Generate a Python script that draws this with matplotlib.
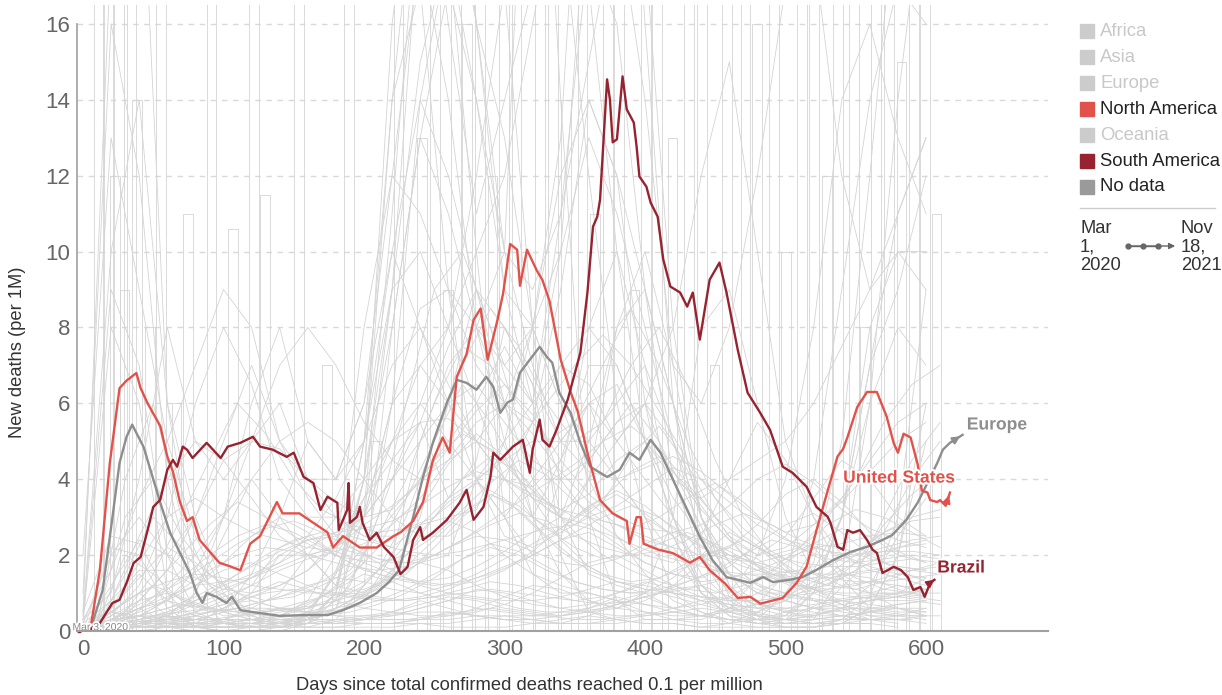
import matplotlib
matplotlib.use("Agg")
import matplotlib.pyplot as plt
import matplotlib.patheffects as pe
from matplotlib.patches import Rectangle
from matplotlib.lines import Line2D

plt.rcParams['font.family'] = ['Liberation Sans', 'DejaVu Sans']

# highlighted series: (days since 0.1 deaths per million, new deaths per 1M)
us_days = [0, 5, 12, 19, 26, 31, 38, 41, 46, 55, 60, 64, 69, 74, 78, 83, 97, 105, 112, 119,
           126, 138, 142, 154, 164, 174, 178, 185, 197, 209, 221, 226, 235, 242, 249, 256, 261,
           266, 273, 278, 283, 288, 295, 299, 304, 309, 311, 316, 323, 327, 332, 340, 347, 352,
           359, 368, 377, 387, 389, 394, 397, 399, 409, 420, 432, 439, 446, 457, 466, 475, 482,
           498, 508, 515, 522, 530, 537, 541, 544, 551, 558, 565, 572, 577, 580, 584, 589, 594,
           597, 601, 603, 608, 610, 614, 617]
us_vals = [0, 0, 1.6, 4.4, 6.4, 6.6, 6.8, 6.4, 6.0, 5.4, 4.6, 4.2, 3.4, 2.9, 3.0, 2.4, 1.8, 1.7,
           1.6, 2.3, 2.5, 3.4, 3.1, 3.1, 2.85, 2.6, 2.2, 2.5, 2.2, 2.2, 2.5, 2.6, 2.9, 3.4, 4.5,
           5.1, 4.7, 6.7, 7.3, 8.2, 8.5, 7.15, 8.2, 8.9, 10.2, 10.05, 9.1, 10.05, 9.5, 9.25, 8.7,
           7.15, 6.3, 5.8, 4.7, 3.45, 3.1, 2.9, 2.3, 3.0, 3.0, 2.3, 2.15, 2.05, 1.8, 1.95, 1.6,
           1.25, 0.87, 0.9, 0.72, 0.87, 1.27, 1.7, 2.65, 3.7, 4.6, 4.8, 5.1, 5.9, 6.3, 6.3, 5.65,
           4.95, 4.7, 5.2, 5.1, 4.4, 3.7, 3.65, 3.45, 3.4, 3.45, 3.3, 3.65]

brazil_days = [0, 5, 12, 21, 26, 31, 36, 41, 46, 50, 55, 60, 64, 67, 71, 74, 78, 88, 98, 103,
               112, 121, 126, 135, 145, 150, 157, 164, 169, 174, 181, 182, 188, 189, 190, 195,
               197, 199, 204, 209, 214, 221, 226, 231, 235, 240, 242, 249, 259, 268, 273, 278,
               285, 290, 292, 297, 306, 313, 318, 320, 325, 327, 332, 337, 345, 354, 359, 363,
               366, 368, 373, 375, 377, 380, 384, 387, 392, 394, 396, 401, 404, 409, 413, 418,
               425, 430, 434, 439, 446, 453, 458, 466, 473, 482, 489, 498, 505, 515, 522, 530,
               532, 537, 541, 544, 548, 553, 558, 562, 565, 569, 577, 582, 587, 591, 596, 599,
               603, 606]
brazil_vals = [0, 0.03, 0.21, 0.74, 0.82, 1.27, 1.79, 1.95, 2.66, 3.27, 3.46, 4.25, 4.51, 4.33,
               4.86, 4.78, 4.56, 4.96, 4.56, 4.86, 4.96, 5.12, 4.86, 4.78, 4.59, 4.70, 4.06,
               3.90, 3.19, 3.54, 3.38, 2.66, 3.19, 3.90, 2.85, 3.01, 3.27, 2.85, 2.40, 2.59,
               2.22, 1.95, 1.50, 1.69, 2.40, 2.74, 2.40, 2.59, 2.93, 3.38, 3.72, 2.93, 3.27,
               4.06, 4.70, 4.51, 4.86, 5.04, 4.17, 4.78, 5.57, 5.04, 4.86, 5.30, 6.10, 7.34,
               8.92, 10.66, 10.92, 11.37, 14.54, 14.01, 12.88, 12.96, 14.62, 13.75, 13.40,
               12.77, 11.98, 11.71, 11.29, 10.92, 9.79, 9.08, 8.92, 8.55, 8.92, 7.68, 9.26,
               9.71, 8.92, 7.41, 6.28, 5.75, 5.30, 4.33, 4.17, 3.80, 3.27, 3.01, 2.85, 2.22,
               2.14, 2.66, 2.59, 2.66, 2.40, 2.14, 2.06, 1.53, 1.69, 1.61, 1.42, 1.08, 1.16,
               0.90, 1.27, 1.35]

europe_days = [0, 5, 14, 21, 26, 31, 35, 38, 43, 48, 55, 62, 69, 76, 81, 85, 88, 95, 102, 106,
               112, 126, 140, 159, 174, 185, 197, 209, 218, 225, 235, 242, 249, 259, 266, 273,
               280, 287, 292, 297, 302, 306, 311, 318, 325, 330, 334, 339, 347, 354, 361, 373,
               382, 389, 396, 404, 411, 420, 430, 439, 448, 458, 475, 484, 491, 503, 512, 522,
               534, 546, 558, 569, 576, 586, 594, 601, 608, 612, 617, 626]
europe_vals = [0, 0, 1.08, 3.01, 4.43, 5.12, 5.44, 5.22, 4.86, 4.25, 3.38, 2.59, 2.06, 1.53,
               1.00, 0.74, 1.00, 0.90, 0.74, 0.90, 0.55, 0.47, 0.40, 0.42, 0.42, 0.55, 0.74,
               1.00, 1.30, 1.61, 3.01, 4.06, 4.96, 6.02, 6.62, 6.54, 6.36, 6.70, 6.44, 5.75,
               6.02, 6.10, 6.81, 7.15, 7.49, 7.23, 7.07, 6.28, 5.75, 4.96, 4.33, 4.06, 4.25,
               4.70, 4.51, 5.04, 4.70, 3.98, 3.19, 2.48, 1.87, 1.42, 1.27, 1.42, 1.29, 1.35,
               1.42, 1.61, 1.87, 2.08, 2.22, 2.40, 2.53, 2.93, 3.38, 3.90, 4.43, 4.78, 4.96, 5.17]

# background countries, sampled every 20 days
grid_days = [0, 20, 40, 60, 80, 100, 120, 140, 160, 180, 200, 220, 240, 260, 280, 300,
             320, 340, 360, 380, 400, 420, 440, 460, 480, 500, 520, 540, 560, 580, 600, 620]

country_vals = [
    [0.5, 18, 22, 6, 1.5, 0.5, 0.3, 0.5, 0.6, 1.2, 4, 14, 17, 9, 4, 2.5, 2.2, 2.6, 3, 2.8, 2.5, 2.2, 1.2, 0.6, 0.4, 0.3, 0.4, 0.6, 1.2, 2.5, 3.5],
    [0.4, 10, 14, 6, 3, 1.2, 0.4, 0.2, 0.3, 0.8, 3, 5, 7, 8, 12, 17, 8, 2, 0.5, 0.3, 0.2, 0.2, 0.1, 0.2, 0.5, 0.9, 1.3, 1.6, 2.0, 2.2, 2.3],
    [1, 16, 12, 4, 1, 0.2, 0.1, 0.2, 0.4, 1.6, 3.5, 5, 5.5, 3.5, 4.5, 8, 6.5, 3, 1.5, 1.2, 1, 0.6, 0.4, 0.3, 0.3, 1, 2.2, 1.4, 0.6, 0.6, 0.4],
    [2, 13, 9, 5, 2.5, 1, 0.3, 0.1, 0.1, 0.3, 1.2, 8, 13, 11, 8, 7, 8, 6, 5, 6, 7, 5, 2.5, 0.9, 0.4, 0.3, 0.6, 0.8, 0.9, 1.0, 1.1],
    [0, 0.2, 0.6, 0.2, 0.1, 0.1, 0.1, 0.1, 0.3, 1, 4, 16, 22, 16, 11, 14, 17, 19, 12, 6, 3, 1, 0.5, 0.2, 0.1, 0.1, 0.1, 0.2, 0.6, 2, 6],
    [0.1, 0.6, 1.5, 0.8, 0.4, 0.2, 0.1, 0.1, 0.2, 0.6, 3, 9, 15, 18, 14, 9, 8, 13, 25, 28, 16, 6, 2, 0.7, 0.3, 0.1, 0.1, 0.3, 0.9, 3, 9],
    [0.1, 0.3, 0.6, 0.8, 0.6, 0.9, 1.2, 2.2, 2.5, 2.0, 3.2, 11, 20, 24, 16, 10, 9, 11, 15, 19, 14, 7, 3, 1.5, 1, 1, 1.8, 5, 12, 20, 28],
    [0, 2.2, 2, 0.6, 0.1, 0, 0, 0.1, 0.3, 1, 5, 14, 21, 20, 16, 13, 8, 6, 4, 2.5, 1.5, 0.8, 0.5, 0.3, 0.2, 0.3, 1, 3, 7, 9, 12],
    [0.5, 2.5, 2.3, 1, 0.7, 0.4, 0.4, 0.6, 0.5, 0.5, 0.8, 2, 5, 7, 8, 10, 27, 14, 3, 0.8, 0.3, 0.3, 0.3, 0.6, 1.4, 1.5, 0.8, 0.6, 0.3, 0.4, 0.6],
    [0.2, 0.8, 1.6, 1.6, 1.2, 1.3, 1.4, 2.0, 2.4, 2.5, 3, 6, 8.5, 9, 8, 6, 4, 3, 5, 8, 9, 6, 3, 1.2, 0.4, 0.2, 0.3, 1.5, 6, 14, 20],
    [0.3, 1.6, 3.5, 5, 7, 9, 8, 5, 3.5, 2.5, 2, 1.8, 1.8, 2, 4, 5, 8, 12, 14, 12, 9, 6, 3, 1.8, 1.2, 1.0, 0.8, 0.6, 0.6, 0.7, 0.8],
    [0.1, 0.3, 0.4, 0.4, 0.3, 0.3, 0.3, 0.4, 0.8, 2, 8, 12, 11, 9, 7, 6, 5.5, 9, 14, 12, 6, 2.5, 1, 0.4, 0.2, 0.1, 0.1, 0.2, 0.6, 2, 5],
    [0.2, 2, 3, 2, 3, 5, 7, 5, 4, 4, 5, 9, 19, 22, 16, 9, 6, 10, 20, 26, 18, 8, 3, 1.2, 0.6, 0.4, 1, 3, 8, 10, 9],
    [0, 0.5, 1, 0.4, 0.2, 0.6, 1, 2, 2, 1.2, 1.8, 6, 14, 18, 10, 3, 2, 4, 8, 10, 7, 3, 1, 0.4, 0.3, 0.4, 1.2, 3, 7, 11, 13],
    [0, 0.1, 0.2, 0.2, 0.3, 0.5, 1.5, 3, 5, 4, 6, 12, 18, 14, 8, 5, 3, 2.5, 4, 8, 10, 7, 6, 8, 12, 17, 18, 12, 9, 11, 13],
    [0, 0.5, 0.4, 0.2, 0.1, 0, 0.1, 0.2, 0.4, 1.5, 4, 8, 13, 17, 14, 10, 7, 5, 6, 4, 3, 2, 1, 0.6, 0.7, 1.5, 4, 9, 14, 17, 16],
    [0, 0.1, 0.1, 0.1, 0.2, 0.3, 0.6, 1, 2, 3, 4, 5, 6, 8, 10, 12, 16, 20, 17, 10, 5, 3, 1.5, 0.8, 0.4, 0.3, 0.2, 0.2, 0.3, 0.3, 0.4],
    [0, 0.2, 0.4, 0.8, 1.6, 3, 5, 7, 8, 7, 5.5, 4.5, 4, 4.5, 5, 6, 8, 10, 13, 11, 8, 5, 3, 1.8, 1.2, 0.8, 0.6, 0.4, 0.3, 0.3, 0.2],
    [0.3, 9, 7, 2, 0.5, 0.2, 0.1, 0.2, 0.5, 1.5, 3, 6, 7, 6, 5, 4.5, 5, 5, 5, 4, 3, 2.5, 1.2, 0.5, 0.3, 0.3, 0.4, 0.6, 0.8, 0.9, 1.1],
    [0.2, 8, 6, 1, 0.2, 0.1, 0.1, 0.1, 0.2, 1, 5, 10, 8, 6, 4, 3, 1.5, 1, 1, 0.8, 0.5, 0.3, 0.2, 0.2, 0.3, 0.5, 0.6, 0.6, 0.8, 1, 1.4],
    [0, 0.1, 0.2, 0.3, 0.4, 0.6, 0.9, 1.2, 1.6, 2.4, 3.5, 4.5, 5.5, 5.6, 5, 4, 3.8, 4.5, 6, 6.5, 5, 4, 3.5, 4, 4.5, 5, 6, 7.5, 9, 10, 10],
    [0, 0.5, 0.3, 0.1, 1, 3, 6, 8, 5, 4, 6, 10, 14, 12, 9, 7, 6, 11, 18, 16, 9, 4, 2, 1, 2, 4, 8, 14, 16, 13, 11],
    [0, 0.4, 1.2, 3, 6, 8, 6.5, 4, 3, 3, 2.5, 2.5, 2.8, 3, 3.2, 5, 6, 7, 6.5, 5, 4, 3, 2, 1.5, 1, 0.8, 0.6, 0.7, 0.8, 0.9, 1.1],
    [0, 0.3, 0.8, 1.6, 3, 4.5, 5, 4.8, 4, 3.4, 3, 3.2, 4, 5, 6, 7.5, 6, 4, 3, 2.5, 2, 1.8, 2.5, 4, 5.5, 4.5, 3, 2, 1.6, 1.4, 1.2],
    [0.3, 1, 4, 8, 5, 4, 5, 6, 4, 3, 2.5, 2.2, 2.8, 3.5, 4, 4.5, 3.5, 3, 4, 5, 6, 4, 2.5, 1.5, 1, 0.8, 0.6, 0.5, 0.4, 0.4, 0.3],
    [0, 0.3, 0.4, 0.2, 0.1, 0.1, 0.1, 0.1, 0.2, 1, 4, 9, 10, 8, 6, 4, 3, 4.5, 7, 7, 5, 3, 1.2, 0.6, 0.5, 0.8, 1.6, 3, 6, 8, 7],
    [0, 0.1, 0.1, 0.1, 0, 0, 0, 0, 0.2, 0.6, 2, 4, 6, 5, 4, 3, 4, 5, 6, 5, 6, 8, 12, 15, 10, 5, 3, 1.5, 1, 0.6, 0.4],
    [0, 0.1, 0.2, 0.4, 1, 2.5, 4, 3, 2, 1.2, 1, 1.5, 3, 6, 9, 6, 3, 1.5, 0.8, 0.6, 1, 3, 8, 9, 6, 3, 1.5, 1.2, 1, 1.2, 1.0],
    [0, 0.8, 2.5, 4, 5, 4.5, 3.5, 2.5, 2, 2.2, 3, 4, 5, 6, 6.5, 5.5, 4.5, 4, 4.5, 5.5, 6, 5, 3.5, 2.5, 2, 2.5, 3.5, 4.5, 4, 3, 2.5],
    [0, 0.3, 0.6, 1.2, 2, 3, 4, 5, 5.5, 5, 4, 3, 2.5, 2.5, 3, 4, 5.5, 7, 8, 7, 5, 3.5, 2.5, 2, 1.8, 1.6, 1.5, 1.5, 1.6, 1.7, 1.6],
    [0, 0.2, 0.3, 0.5, 0.8, 1.2, 1.5, 1.8, 2.5, 3.5, 5, 7, 8, 6.5, 5, 4, 3.5, 3.2, 3.6, 4.5, 5, 4.2, 3.2, 2.4, 2, 2.2, 2.8, 3.5, 4.5, 5.5, 6],
    [0, 0.6, 1.8, 3, 3.5, 3, 2.6, 2.4, 2.2, 2.1, 2.3, 2.8, 3.5, 4.5, 5.5, 6, 5.2, 4.2, 3.4, 2.8, 2.4, 2.2, 2, 2.2, 2.8, 3.6, 4, 3.4, 2.6, 2.1, 1.8],
    [0, 0.1, 0.2, 0.4, 0.7, 1, 1.4, 1.8, 2.2, 2.6, 3, 4, 5.5, 7.5, 9, 8, 6.5, 5, 4.2, 4, 4.3, 4.6, 4.2, 3.6, 3, 2.6, 2.8, 3.4, 4.2, 5, 5.5],
    [0, 1.2, 2.4, 2, 1.4, 1.1, 1, 1.2, 1.6, 2.2, 2.8, 3.3, 3.9, 4.8, 5.8, 6.5, 5.7, 4.5, 3.6, 3, 2.7, 2.6, 2.8, 3.3, 4, 4.4, 3.9, 3.2, 2.7, 2.4, 2.2],
    [0, 0.1, 0.2, 0.3, 0.5, 0.7, 0.8, 0.6, 0.5, 0.4, 0.4, 0.5, 0.7, 0.9, 0.8, 0.6, 0.5, 0.4, 0.5, 0.7, 0.9, 1.1, 1.2, 0.9, 0.7, 0.5, 0.4, 0.4, 0.5, 0.6, 0.5],
    [0, 0.2, 0.3, 0.4, 0.3, 0.3, 0.3, 0.2, 0.2, 0.2, 0.3, 0.4, 0.6, 0.8, 1.1, 1.0, 0.8, 0.6, 0.5, 0.4, 0.4, 0.5, 0.6, 0.5, 0.4, 0.3, 0.3, 0.4, 0.5, 0.4, 0.4],
    [0, 0.1, 0.1, 0.2, 0.4, 0.6, 1.0, 1.3, 1.1, 0.8, 0.6, 0.5, 0.4, 0.4, 0.5, 0.7, 1.0, 1.4, 1.8, 2.0, 1.6, 1.2, 0.9, 0.7, 0.6, 0.8, 1.2, 1.5, 1.4, 1.1, 0.9],
    [0, 0, 0.1, 0.1, 0.1, 0.2, 0.2, 0.3, 0.3, 0.2, 0.2, 0.2, 0.3, 0.3, 0.4, 0.3, 0.3, 0.2, 0.2, 0.3, 0.4, 0.5, 0.4, 0.3, 0.2, 0.2, 0.2, 0.3, 0.3, 0.2],
    [0, 0.3, 0.6, 0.9, 1.2, 1.6, 1.8, 1.5, 1.2, 1.0, 0.9, 0.8, 0.9, 1.1, 1.4, 1.7, 2.0, 2.4, 2.6, 2.2, 1.8, 1.5, 1.3, 1.4, 1.6, 1.9, 2.2, 2.0, 1.7, 1.5, 1.4],
    [0, 0.1, 0.2, 0.3, 0.4, 0.3, 0.2, 0.2, 0.3, 0.5, 0.9, 1.4, 1.8, 1.6, 1.2, 0.9, 0.7, 0.6, 0.7, 1.0, 1.3, 1.1, 0.8, 0.5, 0.3, 0.2, 0.2, 0.3, 0.5, 0.7, 0.8],
    [0, 0.2, 0.1, 0.1, 0.1, 0.1, 0.2, 0.4, 0.7, 1.1, 1.5, 1.3, 1.0, 0.8, 0.6, 0.5, 0.4, 0.4, 0.5, 0.6, 0.8, 1.2, 1.8, 2.2, 1.9, 1.4, 1.0, 0.7, 0.5, 0.4],
    [0, 0.1, 0.3, 0.5, 0.8, 1.1, 1.4, 1.7, 2.0, 2.2, 2.0, 1.6, 1.2, 1.0, 0.9, 0.8, 0.8, 0.9, 1.1, 1.3, 1.2, 1.0, 0.8, 0.7, 0.6, 0.6, 0.7, 0.8, 0.7, 0.6, 0.6],
    [0, 0, 0, 0.1, 0.1, 0.1, 0.1, 0.1, 0.1, 0.1, 0.2, 0.2, 0.2, 0.1, 0.1, 0.1, 0.2, 0.3, 0.4, 0.3, 0.2, 0.2, 0.1, 0.1, 0.1, 0.1, 0.1, 0.2, 0.2, 0.1],
    [0, 0.4, 0.8, 1.0, 0.7, 0.5, 0.3, 0.3, 0.4, 0.6, 1.0, 1.6, 2.4, 2.9, 2.6, 2.0, 1.5, 1.2, 1.0, 0.8, 0.7, 0.6, 0.7, 0.9, 1.3, 1.8, 2.3, 2.7, 2.5, 2.0, 1.8],
    [0, 0.1, 0.2, 0.2, 0.3, 0.5, 0.7, 0.9, 1.2, 1.4, 1.3, 1.1, 1.0, 1.2, 1.5, 1.9, 2.3, 2.7, 3.2, 3.6, 3.1, 2.5, 1.9, 1.4, 1.1, 0.9, 0.8, 0.8, 0.9, 0.9, 0.8],
    [0, 0.1, 0.1, 0.2, 0.2, 0.2, 0.3, 0.3, 0.2, 0.2, 0.3, 0.5, 0.8, 0.6, 0.4, 0.3, 0.3, 0.4, 0.6, 0.9, 0.7, 0.5, 0.4, 0.6, 1.0, 1.4, 1.1, 0.7, 0.4, 0.3],
    [0, 0.2, 0.5, 0.8, 1.2, 1.8, 2.5, 3.0, 2.6, 2.0, 1.6, 1.4, 1.3, 1.4, 1.7, 2.1, 2.6, 3.0, 2.8, 2.3, 1.8, 1.5, 1.4, 1.7, 2.3, 2.8, 3.1, 2.6, 2.0, 1.6, 1.3],
    [0, 0.1, 0.1, 0.1, 0.2, 0.3, 0.5, 0.6, 0.5, 0.4, 0.3, 0.3, 0.3, 0.4, 0.6, 0.9, 1.2, 1.1, 0.8, 0.6, 0.5, 0.4, 0.4, 0.5, 0.7, 0.6, 0.5, 0.4, 0.3, 0.3],
    [0, 0.3, 0.4, 0.3, 0.2, 0.2, 0.3, 0.4, 0.6, 0.9, 1.3, 1.9, 2.6, 3.4, 3.9, 3.5, 2.8, 2.1, 1.6, 1.3, 1.1, 1.0, 0.9, 0.8, 0.8, 0.9, 1.0, 1.2, 1.3, 1.2, 1.1],
    [0, 0.1, 0.2, 0.2, 0.2, 0.2, 0.2, 0.2, 0.3, 0.3, 0.4, 0.4, 0.5, 0.5, 0.4, 0.4, 0.4, 0.5, 0.6, 0.8, 1.0, 1.4, 2.0, 2.6, 2.2, 1.6, 1.1, 0.8, 0.6, 0.5, 0.5],
    [0, 0.5, 1.0, 1.3, 1.5, 1.4, 1.2, 1.1, 1.0, 1.0, 1.1, 1.4, 1.8, 2.2, 2.5, 2.4, 2.1, 1.8, 1.7, 1.9, 2.3, 2.6, 2.4, 2.0, 1.6, 1.3, 1.1, 1.0, 1.0, 1.0, 0.9],
    [0, 0.1, 0.1, 0.1, 0.1, 0.2, 0.3, 0.2, 0.1, 0.1, 0.1, 0.1, 0.2, 0.2, 0.3, 0.4, 0.3, 0.2, 0.2, 0.2, 0.3, 0.3, 0.4, 0.6, 0.5, 0.3, 0.2, 0.2, 0.2],
    [0, 0.2, 0.4, 0.6, 0.9, 1.3, 1.7, 2.1, 2.4, 2.6, 2.7, 2.9, 3.3, 3.8, 4.2, 4.0, 3.6, 3.2, 3.0, 3.3, 3.8, 4.3, 4.0, 3.4, 2.8, 2.4, 2.2, 2.3, 2.5, 2.6, 2.5],
    [0, 0.1, 0.2, 0.4, 0.3, 0.2, 0.1, 0.1, 0.2, 0.3, 0.2, 0.2, 0.3, 0.5, 0.4, 0.3, 0.2, 0.2, 0.4, 0.7, 0.9, 0.6, 0.4, 0.3, 0.2, 0.2, 0.3, 0.4, 0.3],
    [0, 0.6, 1.4, 2.2, 1.8, 1.2, 0.8, 0.6, 0.6, 0.8, 1.2, 2.0, 3.2, 4.4, 5.2, 4.6, 3.5, 2.4, 1.7, 1.3, 1.1, 1.0, 0.9, 0.8, 0.8, 0.9, 1.1, 1.4, 1.8, 2.2, 2.4],
    [0, 0.1, 0.2, 0.3, 0.5, 0.8, 1.2, 1.6, 1.9, 2.1, 1.8, 1.5, 1.3, 1.2, 1.3, 1.6, 2.1, 2.7, 3.3, 3.7, 3.3, 2.7, 2.2, 1.9, 1.8, 2.0, 2.3, 2.2, 1.9, 1.7, 1.6],
]

# more countries on an offset 20-day grid
grid_days_b = [10, 30, 50, 70, 90, 110, 130, 150, 170, 190, 210, 230, 250, 270, 290, 310,
               330, 350, 370, 390, 410, 430, 450, 470, 490, 510, 530, 550, 570, 590, 610]

country_vals_b = [
    [0.2, 2, 1.5, 0.8, 0.5, 0.6, 0.8, 1.0, 1.3, 1.8, 2.6, 3.5, 4.5, 5.2, 4.8, 4.0, 3.4, 3.0, 3.5, 4.2, 4.6, 3.8, 2.8, 2.0, 1.5, 1.3, 1.5, 2.0, 2.6, 3.0, 3.2],
    [0, 0.3, 0.5, 0.7, 0.6, 0.5, 0.4, 0.4, 0.5, 0.7, 1.2, 2.0, 3.0, 4.0, 4.6, 4.2, 3.4, 2.6, 2.0, 1.6, 1.3, 1.1, 1.0, 1.2, 1.6, 2.2, 2.8, 3.2, 3.0, 2.6, 2.2],
    [0.1, 0.5, 0.9, 1.3, 1.8, 2.3, 2.7, 2.9, 2.6, 2.2, 1.9, 1.8, 2.0, 2.4, 2.9, 3.4, 3.9, 4.4, 5.0, 5.4, 4.8, 3.9, 3.0, 2.4, 2.0, 1.8, 1.7, 1.7, 1.8, 1.9, 1.8],
    [0, 0.2, 0.3, 0.3, 0.3, 0.4, 0.5, 0.7, 0.9, 1.0, 0.9, 0.8, 0.9, 1.1, 1.3, 1.2, 1.0, 0.8, 0.7, 0.8, 1.0, 1.3, 1.6, 1.4, 1.1, 0.9, 0.8, 0.9, 1.0, 0.9, 0.8],
    [0, 0.1, 0.1, 0.2, 0.2, 0.3, 0.3, 0.4, 0.6, 0.8, 1.1, 1.5, 2.2, 3.0, 3.6, 3.2, 2.5, 1.9, 1.5, 1.3, 1.4, 1.7, 2.1, 2.4, 2.0, 1.5, 1.2, 1.1, 1.3, 1.6, 1.8],
    [0.3, 3, 4, 2.5, 1.5, 1.0, 0.8, 0.9, 1.2, 1.6, 2.5, 4, 6, 7.5, 7, 6, 5, 5.5, 7, 8.5, 7, 5, 3.5, 2.5, 2.0, 2.2, 3, 4, 5.5, 6.5, 7],
    [0, 0.2, 0.4, 0.5, 0.6, 0.8, 1.0, 1.1, 1.0, 0.9, 0.8, 0.8, 0.9, 1.0, 1.1, 1.0, 0.9, 0.8, 0.9, 1.1, 1.4, 1.8, 2.1, 1.9, 1.5, 1.2, 1.0, 0.9, 0.8, 0.8, 0.7],
    [0, 0.4, 1.2, 2.0, 2.8, 3.4, 3.0, 2.5, 2.1, 1.9, 1.8, 2.0, 2.5, 3.2, 3.9, 4.5, 4.1, 3.4, 2.9, 2.7, 3.0, 3.5, 3.9, 3.4, 2.7, 2.2, 1.9, 1.8, 1.9, 2.0, 1.9],
    [0, 0.1, 0.1, 0.1, 0.2, 0.2, 0.2, 0.3, 0.3, 0.3, 0.4, 0.5, 0.7, 0.9, 0.8, 0.6, 0.5, 0.5, 0.6, 0.8, 1.0, 0.8, 0.6, 0.5, 0.4, 0.4, 0.5, 0.6, 0.5, 0.4, 0.4],
    [0.1, 1.5, 3, 2.2, 1.2, 0.7, 0.5, 0.6, 0.9, 1.4, 2.2, 3.5, 5, 6.5, 5.5, 4.2, 3.2, 2.8, 3.4, 4.6, 5.4, 4.4, 3.0, 2.0, 1.4, 1.1, 1.2, 1.8, 2.8, 3.6, 4.2],
    [0, 0.2, 0.6, 1.1, 1.6, 2.0, 2.2, 2.1, 1.9, 1.7, 1.6, 1.7, 2.0, 2.4, 2.8, 3.1, 2.9, 2.5, 2.2, 2.0, 2.1, 2.4, 2.8, 3.1, 2.8, 2.4, 2.1, 2.0, 2.2, 2.4, 2.5],
    [0, 0.1, 0.2, 0.3, 0.3, 0.3, 0.3, 0.3, 0.4, 0.5, 0.7, 1.0, 1.4, 1.9, 2.3, 2.1, 1.7, 1.3, 1.1, 1.0, 1.0, 1.1, 1.3, 1.5, 1.4, 1.2, 1.1, 1.2, 1.4, 1.6, 1.7],
    [0.2, 0.8, 1.2, 0.9, 0.6, 0.5, 0.5, 0.6, 0.7, 0.9, 1.2, 1.7, 2.4, 3.1, 3.6, 3.3, 2.7, 2.2, 1.9, 2.0, 2.3, 2.6, 2.3, 1.9, 1.6, 1.5, 1.7, 2.1, 2.6, 2.9, 3.0],
    [0, 0.1, 0.1, 0.1, 0.1, 0.1, 0.2, 0.2, 0.2, 0.3, 0.3, 0.3, 0.4, 0.5, 0.6, 0.5, 0.4, 0.3, 0.3, 0.4, 0.5, 0.7, 0.9, 0.8, 0.6, 0.4, 0.3, 0.3, 0.3, 0.3],
    [0, 0.5, 1.5, 3, 4.5, 6, 5.2, 4, 3.2, 2.8, 2.6, 2.7, 3, 3.6, 4.3, 5, 6, 7, 7.8, 7, 5.8, 4.5, 3.5, 2.7, 2.1, 1.7, 1.4, 1.3, 1.3, 1.4, 1.5],
    [0, 0.3, 0.8, 1.4, 2.0, 2.5, 2.8, 2.6, 2.2, 1.8, 1.5, 1.3, 1.2, 1.3, 1.5, 1.8, 2.2, 2.6, 3.0, 3.3, 3.0, 2.5, 2.0, 1.7, 1.5, 1.4, 1.4, 1.5, 1.6, 1.6, 1.5],
    [0, 0.2, 0.3, 0.4, 0.5, 0.6, 0.6, 0.5, 0.5, 0.6, 0.8, 1.1, 1.5, 1.9, 2.2, 2.0, 1.6, 1.3, 1.1, 1.0, 1.1, 1.3, 1.6, 2.0, 2.4, 2.2, 1.8, 1.4, 1.1, 1.0, 1.0],
    [0.1, 4, 6, 3, 1.2, 0.5, 0.3, 0.3, 0.5, 1.2, 3, 6, 9, 10, 8, 5.5, 4, 4, 5, 6, 5, 3.5, 2, 1, 0.6, 0.5, 0.8, 1.5, 3, 4.5, 5.5],
    [0, 0.1, 0.2, 0.2, 0.1, 0.1, 0.1, 0.2, 0.4, 0.8, 1.6, 3, 5, 7, 8.5, 7.5, 6, 5, 5.5, 7, 8, 6.5, 4.5, 3, 2, 1.4, 1.2, 1.6, 2.6, 4, 5],
    [0, 0.1, 0.3, 0.6, 1.0, 1.5, 2.0, 2.4, 2.6, 2.5, 2.3, 2.1, 2.0, 2.1, 2.3, 2.5, 2.7, 2.8, 2.6, 2.3, 2.0, 1.8, 1.6, 1.5, 1.5, 1.6, 1.8, 2.0, 2.1, 2.1, 2.0],
]

# tiny countries: single-death 7-day pulses
pulse_days = [8, 14, 19, 22, 26, 31, 35, 44, 52, 63, 71, 88, 103, 118, 126, 150, 170, 186,
              205, 221, 238, 247, 256, 262, 270, 279, 288, 296, 305, 313, 322, 331, 340, 352,
              361, 370, 378, 389, 397, 405, 416, 428, 437, 446, 455, 468, 476, 488, 497, 508,
              517, 526, 534, 545, 553, 561, 570, 579, 588, 596, 604]
pulse_heights = [18, 20, 12, 20, 9, 20, 14, 8, 20, 6, 11, 20, 10.6, 20, 11.5, 20, 7, 20, 5, 20,
                 13, 20, 9, 20, 16, 20, 12, 20, 20, 8, 20, 20, 14, 20, 11, 20, 20, 9, 20, 20,
                 13, 20, 20, 7, 20, 20, 16, 20, 10, 20, 20, 12, 20, 20, 8, 20, 20, 15, 20, 20, 11]

legend_names = ["Africa", "Asia", "Europe", "North America", "Oceania", "South America", "No data"]
legend_active = [False, False, False, True, False, True, True]

US_COLOR = "#E1524B"
BR_COLOR = "#96232F"
EU_COLOR = "#8E8E8E"
BG_COLOR = "#d4d4d4"

W, H = 1222, 695


def fx(px):
    return px / W


def fy(py):
    return 1 - py / H


fig = plt.figure(figsize=(W / 100, H / 100), dpi=100)
ax = fig.add_axes([fx(77), fy(631), (1048 - 77) / W, (631 - 5) / H])
ax.set_xlim(-4.27, 686.8)
ax.set_ylim(0, 16.5)

for vals in country_vals:
    ax.plot(grid_days[:len(vals)], vals, color=BG_COLOR, lw=0.6, zorder=1)
for vals in country_vals_b:
    ax.plot(grid_days_b[:len(vals)], vals, color=BG_COLOR, lw=0.6, zorder=1)

for d, h in zip(pulse_days, pulse_heights):
    ax.plot([d, d, d + 7, d + 7], [0, h, h, 0], color=BG_COLOR, lw=0.6, zorder=1)

halo = [pe.withStroke(linewidth=3, foreground="white")]

ax.plot(europe_days, europe_vals, color=EU_COLOR, lw=1.7, zorder=3)
ax.plot(us_days, us_vals, color=US_COLOR, lw=1.7, zorder=4)
ax.plot(brazil_days, brazil_vals, color=BR_COLOR, lw=1.7, zorder=5)

for days, vals, c, z in [(europe_days, europe_vals, EU_COLOR, 3),
                         (us_days, us_vals, US_COLOR, 4),
                         (brazil_days, brazil_vals, BR_COLOR, 5)]:
    ax.annotate("", xy=(days[-1], vals[-1]), xytext=(days[-2], vals[-2]),
                arrowprops=dict(arrowstyle="-|>", color=c, lw=1.5, mutation_scale=11),
                zorder=z)

ax.text(629, 5.43, "Europe", color=EU_COLOR, fontsize=12.6, fontweight="bold",
        va="center", ha="left", zorder=6, path_effects=halo)
ax.text(541, 4.03, "United States", color=US_COLOR, fontsize=12.6, fontweight="bold",
        va="center", ha="left", zorder=6, path_effects=halo)
ax.text(608, 1.66, "Brazil", color=BR_COLOR, fontsize=12.6, fontweight="bold",
        va="center", ha="left", zorder=6, path_effects=halo)

ax.plot([-2.5], [0.02], marker="o", ms=3, color=BR_COLOR, zorder=6, clip_on=False)
ax.text(-7.5, 0.1, "Mar 3, 2020", color="#8a8a8a", fontsize=7.5, va="center", ha="left",
        zorder=7, path_effects=[pe.withStroke(linewidth=2.5, foreground="white")])

ax.set_yticks(range(0, 17, 2))
ax.set_xticks(range(0, 700, 100))
ax.tick_params(axis="both", length=0, labelsize=16, labelcolor="#666666")
ax.tick_params(axis="y", pad=5)
ax.tick_params(axis="x", pad=6)
ax.yaxis.grid(True, linestyle=(0, (4, 4)), color="#d9d9d9", lw=1)
ax.set_axisbelow(True)
for s in ["top", "right"]:
    ax.spines[s].set_visible(False)
ax.spines["left"].set_color("#a0a0a0")
ax.spines["left"].set_linewidth(1.2)
ax.spines["left"].set_bounds(0, 16)
ax.spines["bottom"].set_color("#a0a0a0")
ax.spines["bottom"].set_linewidth(1.5)
ax.spines["bottom"].set_zorder(8)

fig.text(fx(18), fy(352), "New deaths (per 1M)", rotation=90, fontsize=13.2,
         color="#333333", ha="center", va="center")
fig.text(fx(529), fy(686), "Days since total confirmed deaths reached 0.1 per million",
         fontsize=13.2, color="#333333", ha="center", va="center")

# legend
square_colors = ["#cccccc", "#cccccc", "#cccccc", US_COLOR, "#cccccc", BR_COLOR, "#9a9a9a"]
for i, name in enumerate(legend_names):
    yc = 31 + 26 * i
    fig.patches.append(Rectangle((fx(1080), fy(yc + 7)), 14 / W, 14 / H,
                                 transform=fig.transFigure, color=square_colors[i]))
    fig.text(fx(1100), fy(yc), name, fontsize=13.3, va="center", ha="left",
             color="#222222" if legend_active[i] else "#c8c8c8")

fig.add_artist(Line2D([fx(1080), fx(1215)], [fy(208), fy(208)], color="#cccccc", lw=1,
                      transform=fig.transFigure))
fig.text(fx(1080), fy(220), "Mar\n1,\n2020", fontsize=13.2, va="top", ha="left",
         color="#333333", linespacing=1.1)
fig.text(fx(1181), fy(220), "Nov\n18,\n2021", fontsize=13.2, va="top", ha="left",
         color="#333333", linespacing=1.1)
fig.add_artist(Line2D([fx(1128), fx(1143), fx(1158)], [fy(246)] * 3, color="#666666", lw=1,
                      marker="o", ms=3.5, transform=fig.transFigure))
ax.annotate("", xy=(1178, H - 246), xytext=(1126, H - 246), xycoords="figure pixels",
            textcoords="figure pixels",
            arrowprops=dict(arrowstyle="-|>", color="#666666", lw=1, mutation_scale=9))

fig.savefig("out.png", dpi=100)
